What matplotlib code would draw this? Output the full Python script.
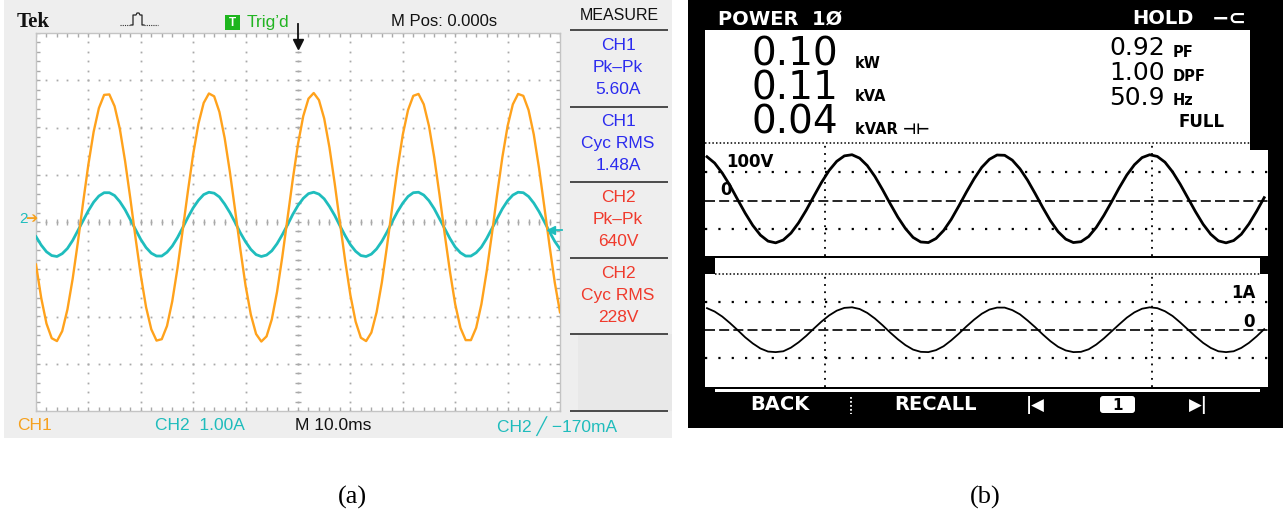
import matplotlib
matplotlib.use("Agg")
import matplotlib.pyplot as plt
from matplotlib.patches import Rectangle, FancyBboxPatch
import numpy as np

W, H = 1283, 521

# ---------------- data : panel (a) oscilloscope ----------------
scope_t_ms = list(range(0, 101))          # 10 ms/div, 10 divisions
ch1_orange_div = [-0.90, -1.61, -2.15, -2.46, -2.52, -2.31, -1.85, -1.20, -0.42, 0.42,
                  1.22, 1.91, 2.41, 2.69, 2.70, 2.45, 1.97, 1.29, 0.50, -0.34,
                  -1.13, -1.80, -2.27, -2.51, -2.48, -2.20, -1.68, -0.98, -0.17, 0.66,
                  1.44, 2.08, 2.52, 2.72, 2.66, 2.33, 1.78, 1.06, 0.25, -0.58,
                  -1.35, -1.96, -2.37, -2.53, -2.42, -2.06, -1.48, -0.74, 0.08, 0.90,
                  1.65, 2.24, 2.61, 2.73, 2.58, 2.19, 1.58, 0.82, -0.01, -0.82,
                  -1.55, -2.11, -2.45, -2.52, -2.34, -1.91, -1.28, -0.50, 0.33, 1.14,
                  1.85, 2.37, 2.67, 2.71, 2.49, 2.03, 1.37, 0.58, -0.26, -1.05,
                  -1.74, -2.24, -2.50, -2.50, -2.24, -1.74, -1.05, -0.26, 0.58, 1.37,
                  2.03, 2.49, 2.71, 2.67, 2.37, 1.85, 1.14, 0.33, -0.50, -1.28,
                  -1.91]
ch2_cyan_div = [-0.31, -0.49, -0.63, -0.71, -0.73, -0.67, -0.56, -0.39, -0.18, 0.03,
                0.24, 0.42, 0.55, 0.62, 0.62, 0.56, 0.43, 0.26, 0.05, -0.16,
                -0.37, -0.54, -0.66, -0.72, -0.72, -0.64, -0.51, -0.33, -0.12, 0.10,
                0.30, 0.46, 0.58, 0.63, 0.61, 0.53, 0.38, 0.20, -0.01, -0.23,
                -0.42, -0.58, -0.69, -0.73, -0.70, -0.61, -0.46, -0.27, -0.06, 0.16,
                0.35, 0.50, 0.60, 0.63, 0.59, 0.49, 0.33, 0.14, -0.08, -0.29,
                -0.48, -0.62, -0.71, -0.73, -0.68, -0.57, -0.41, -0.21, 0.01, 0.22,
                0.40, 0.54, 0.62, 0.63, 0.57, 0.45, 0.28, 0.07, -0.14, -0.35,
                -0.53, -0.65, -0.72, -0.72, -0.65, -0.53, -0.35, -0.14, 0.07, 0.28,
                0.45, 0.57, 0.63, 0.62, 0.54, 0.40, 0.22, 0.01, -0.21, -0.41,
                -0.57]
trigger_level_div = -0.17   # -170 mA at 1.00 A/div
measure_blocks = [("CH1", "Pk\u2013Pk", "5.60A"),
                  ("CH1", "Cyc RMS", "1.48A"),
                  ("CH2", "Pk\u2013Pk", "640V"),
                  ("CH2", "Cyc RMS", "228V")]
measure_colors = ["#2b2bef", "#2b2bef", "#f03a2c", "#f03a2c"]

# ---------------- data : panel (b) power meter ----------------
meter_t_ms = list(range(0, 74))
voltage_V = [154, 132, 97, 54, 5, -43, -86, -120, -141, -147,
             -137, -113, -77, -33, 16, 64, 106, 138, 157, 161,
             149, 123, 85, 39, -10, -57, -97, -128, -144, -146,
             -132, -104, -65, -18, 31, 77, 117, 145, 160, 159,
             142, 112, 72, 25, -24, -70, -108, -134, -146, -143,
             -125, -93, -51, -4, 45, 90, 126, 151, 161, 155,
             135, 101, 58, 10, -38, -82, -117, -140, -147, -139,
             -117, -81, -37, 11]
current_A = [0.78, 0.66, 0.48, 0.25, 0.00, -0.26, -0.48, -0.66, -0.77, -0.79,
             -0.76, -0.63, -0.44, -0.21, 0.05, 0.30, 0.52, 0.69, 0.79, 0.81,
             0.75, 0.61, 0.41, 0.17, -0.09, -0.33, -0.54, -0.70, -0.78, -0.79,
             -0.72, -0.58, -0.37, -0.13, 0.13, 0.37, 0.58, 0.73, 0.80, 0.80,
             0.71, 0.56, 0.34, 0.10, -0.16, -0.40, -0.60, -0.73, -0.79, -0.78,
             -0.69, -0.52, -0.30, -0.05, 0.20, 0.44, 0.63, 0.76, 0.81, 0.78,
             0.67, 0.50, 0.27, 0.02, -0.23, -0.46, -0.64, -0.76, -0.79, -0.76,
             -0.64, -0.46, -0.23, 0.03]
readings_left_values = ["0.10", "0.11", "0.04"]
readings_left_units = ["kW", "kVA", "kVAR \u22a3\u22a2"]
readings_right_values = ["0.92", "1.00", "50.9"]
readings_right_units = ["PF", "DPF", "Hz"]
menu_items = ["BACK", "RECALL"]

# ---------------- figure ----------------
fig = plt.figure(figsize=(W / 100, H / 100), dpi=100)
fig.patch.set_facecolor("white")


def px_axes(x0, y0, x1, y1, z):
    return fig.add_axes([x0 / W, 1 - y1 / H, (x1 - x0) / W, (y1 - y0) / H], zorder=z)


bg = px_axes(0, 0, W, H, 0)
bg.set_xlim(0, W); bg.set_ylim(H, 0); bg.axis("off")
top = px_axes(0, 0, W, H, 10)
top.set_xlim(0, W); top.set_ylim(H, 0); top.axis("off")
top.patch.set_alpha(0)

SANS = ["Liberation Sans", "DejaVu Sans"]
LCD = ["DejaVu Sans"]

# ===== panel (a) background =====
bg.add_patch(Rectangle((4, 0), 668, 438, color="#eeeeee", lw=0))
bg.add_patch(Rectangle((578, 334), 94, 77, color="#e8e8e8", lw=0))

# header texts
top.text(17, 22, "Tek", family="Liberation Serif", weight="bold", fontsize=15,
         ha="left", va="center", color="#111111")
# acquisition icon
top.plot([120, 131], [25, 25], color="#333333", lw=0.8, ls=(0, (1, 1)))
top.plot([131, 133, 133, 136, 137, 139, 140, 142, 142, 144],
         [25, 25, 15, 15, 13, 13, 15, 15, 25, 25], color="#222222", lw=0.9)
top.plot([144, 158], [25, 25], color="#333333", lw=0.8, ls=(0, (1, 1)))
top.add_patch(Rectangle((225, 15), 15, 15, color="#1db51d", lw=0))
top.text(232.5, 22.5, "T", color="white", weight="bold", fontsize=8.5,
         ha="center", va="center", family=SANS)
top.text(247, 22, "Trig\u2019d", color="#22b422", fontsize=12.5, ha="left",
         va="center", family=SANS)
top.text(391, 22, "M Pos: 0.000s", color="#111111", fontsize=12, ha="left",
         va="center", family=SANS)
top.text(619, 16, "MEASURE", color="#111111", fontsize=11.5, ha="center",
         va="center", family=SANS)

for ysep in [30, 107, 182, 258, 334, 411]:
    top.plot([570, 668], [ysep, ysep], color="#4a4a4a", lw=1.4, solid_capstyle="butt")

block_tops = [45, 121, 197, 273]
for (l1, l2, l3), col, yb in zip(measure_blocks, measure_colors, block_tops):
    for k, s in enumerate([l1, l2, l3]):
        top.text(618, yb + k * 22.5, s, color=col, fontsize=12.5, ha="center",
                 va="center", family=SANS)

# bottom status line
top.text(17, 426, "CH1", color="#f6a11e", fontsize=12.5, ha="left", va="center", family=SANS)
top.text(155, 426, "CH2  1.00A", color="#1fbcbc", fontsize=12.5, ha="left", va="center", family=SANS)
top.text(295, 426, "M 10.0ms", color="#111111", fontsize=12.5, ha="left", va="center", family=SANS)
top.text(497, 426, "CH2 \u2571 \u2212170mA", color="#1fbcbc", fontsize=12.5, ha="left",
         va="center", family=SANS)

# ===== scope screen =====
sc = px_axes(36, 33, 560, 411, 2)
sc.set_xlim(0, 100); sc.set_ylim(-4, 4)
sc.set_xticks([]); sc.set_yticks([])
sc.set_facecolor("white")
for sp in sc.spines.values():
    sp.set_color("#c4c4c4"); sp.set_linewidth(1.0)

gcol = "#a9a9a9"
ydots = np.arange(-4, 4.001, 0.2)
xdots = np.arange(0, 100.001, 2)
for gx in range(10, 100, 10):
    sc.plot(np.full(len(ydots), gx), ydots, ls="none", marker="s", ms=1.3, mec="none", mfc=gcol)
for gy in range(-3, 4):
    sc.plot(xdots, np.full(len(xdots), gy), ls="none", marker="s", ms=1.3, mec="none", mfc=gcol)
# centre graticule ticks
sc.plot(xdots, np.zeros(len(xdots)), ls="none", marker="|", ms=5, mew=1.0, color=gcol)
sc.plot(np.full(len(ydots), 50), ydots, ls="none", marker="_", ms=5, mew=1.0, color=gcol)
# border ticks
for yb in (-4, 4):
    sc.plot(xdots, np.full(len(xdots), yb), ls="none", marker="|", ms=6, mew=1.0, color=gcol)
for xb in (0, 100):
    sc.plot(np.full(len(ydots), xb), ydots, ls="none", marker="_", ms=6, mew=1.0, color=gcol)

sc.plot(scope_t_ms, ch2_cyan_div, color="#1fbdbd", lw=2.0, zorder=3)
sc.plot(scope_t_ms, ch1_orange_div, color="#ffa21c", lw=1.7, zorder=4)

# trigger position and level markers
sc.plot([50], [3.76], marker="v", ms=7, color="#111111", clip_on=False, zorder=6)
sc.plot([50, 50], [3.76, 4.2], color="#111111", lw=1.3, clip_on=False, zorder=6)
sc.plot([98.3], [trigger_level_div], marker="<", ms=6, color="#1fbdbd", clip_on=False, zorder=6)
sc.plot([98.3, 100.4], [trigger_level_div, trigger_level_div], color="#1fbdbd", lw=1.3,
        clip_on=False, zorder=6)

# ground reference markers
top.text(23, 219, "2", color="#1fbdbd", fontsize=11, ha="center", va="center", family=SANS)
top.text(31, 219, "\u2794", color="#f6a11e", fontsize=10.5, ha="center", va="center",
         family=["DejaVu Sans"])

# ===== panel (b) =====
bg.add_patch(Rectangle((688, 0), W - 688, 428, color="black", lw=0))
bg.add_patch(Rectangle((705, 30), 545, 120, color="white", lw=0))
bg.add_patch(Rectangle((715, 258), 545, 16, color="white", lw=0))
bg.add_patch(Rectangle((715, 389), 545, 3, color="white", lw=0))

top.text(718, 19, "POWER  1\u00d8", color="white", weight="bold", fontsize=14,
         ha="left", va="center", family=LCD)
top.text(1132, 19, "HOLD", color="white", weight="bold", fontsize=14,
         ha="left", va="center", family=LCD)
top.text(1212, 19, "\u2212\u2282", color="white", weight="bold", fontsize=15,
         ha="left", va="center", family=LCD)

# big readings (one multi-line text per column; baseline = last line)
top.text(752, 134, "\n".join(readings_left_values), color="black", fontsize=28,
         ha="left", va="baseline", family=LCD, linespacing=0.87)
top.text(855, 134, "\n".join(readings_left_units), color="black", fontsize=10.5,
         weight="bold", ha="left", va="baseline", family=LCD, linespacing=2.50)
top.text(1109, 105, "\n".join(readings_right_values), color="black", fontsize=18,
         ha="left", va="baseline", family=LCD, linespacing=1.04)
top.text(1173, 105, "\n".join(readings_right_units), color="black", fontsize=10.5,
         weight="bold", ha="left", va="baseline", family=LCD, linespacing=1.77)
top.text(1225, 127, "FULL", color="black", fontsize=12, weight="bold", ha="right",
         va="baseline", family=LCD)

# dotted separators
top.plot([705, 1250], [143, 143], color="black", lw=1.1, ls=(0, (1, 1.4)))
top.add_patch(Rectangle((1250, 143), 18, 7, color="black", lw=0, zorder=5))

T0, T1 = -0.26, 73.5
vgrid_t = [15.47, 58.3]

va_ = px_axes(705, 143, 1268, 256, 2)
va_.set_xlim(T0, T1); va_.set_ylim(-193, 202)
ia_ = px_axes(705, 274, 1268, 387, 2)
ia_.set_xlim(T0, T1); ia_.set_ylim(-2.036, 2.0)
for a in (va_, ia_):
    a.set_facecolor("white")
    a.set_xticks([]); a.set_yticks([])
    for sp in a.spines.values():
        sp.set_visible(False)
    for gt in vgrid_t:
        a.axvline(gt, color="black", lw=1.3, ls=(0, (1, 3)))

for lv in (100, -100):
    va_.axhline(lv, color="black", lw=1.6, ls=(0, (1, 5)))
va_.axhline(0, color="black", lw=1.2, ls=(0, (6, 2.5)))
for lv in (1, -1):
    ia_.axhline(lv, color="black", lw=1.6, ls=(0, (1, 5)))
ia_.axhline(0, color="black", lw=1.2, ls=(0, (6, 2.5)))

va_.plot(meter_t_ms, voltage_V, color="black", lw=2.0)
ia_.plot(meter_t_ms, current_A, color="black", lw=1.3)

top.plot([715, 1260], [274, 274], color="black", lw=1.1, ls=(0, (1, 1.4)))

top.text(750, 162, "100V", color="black", fontsize=12, weight="bold", ha="center",
         va="center", family=LCD)
top.text(726, 190, "0", color="black", fontsize=12, weight="bold", ha="center",
         va="center", family=LCD)
top.text(1256, 293, "1A", color="black", fontsize=12, weight="bold", ha="right",
         va="center", family=LCD)
top.text(1255, 322, "0", color="black", fontsize=12, weight="bold", ha="right",
         va="center", family=LCD)

# bottom menu
top.text(780, 405, menu_items[0], color="white", fontsize=14, weight="bold", ha="center",
         va="center", family=LCD)
top.plot([851, 851], [397, 414], color="white", lw=1.3, ls=(0, (1, 1.2)))
top.text(935, 405, menu_items[1], color="white", fontsize=14, weight="bold", ha="center",
         va="center", family=LCD)
top.text(1035, 405, "|\u25c0", color="white", fontsize=12, weight="bold", ha="center",
         va="center", family=LCD)
top.add_patch(FancyBboxPatch((1100, 396), 35, 17, boxstyle="round,pad=0,rounding_size=3",
                             color="white", lw=0))
top.text(1117.5, 405, "1", color="black", fontsize=11, weight="bold", ha="center",
         va="center", family=LCD)
top.text(1198, 405, "\u25b6|", color="white", fontsize=12, weight="bold", ha="center",
         va="center", family=LCD)

# captions
top.text(352, 497, "(a)", family="Liberation Serif", fontsize=19, ha="center", va="center",
         color="black")
top.text(985, 497, "(b)", family="Liberation Serif", fontsize=19, ha="center", va="center",
         color="black")

fig.savefig("out.png", dpi=100, facecolor="white")
